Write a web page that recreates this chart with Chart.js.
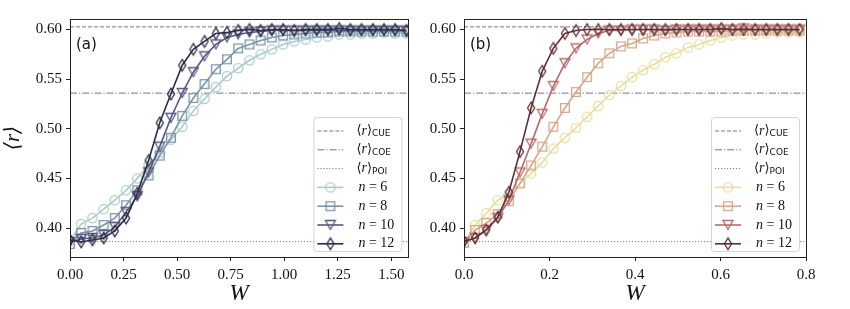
<!DOCTYPE html>
<html>
<head>
<meta charset="utf-8">
<script src="https://cdn.jsdelivr.net/npm/chart.js@4.4.0/dist/chart.umd.min.js"></script>
<style>
    html, body { margin: 0; padding: 0; background: #fff; }
    #wrap { width: 850px; height: 309px; position: relative; }
    #chartA { position: absolute; left: 0; top: 0; }
    #chartB { position: absolute; left: 415px; top: 0; }
</style>
</head>
<body>
<div id="wrap">
    <canvas id="chartA" width="415" height="309"></canvas>
    <canvas id="chartB" width="435" height="309"></canvas>
</div>
<script>
// reference values of <r>
var R_CUE = 0.6027;
var R_COE = 0.5359;
var R_POI = 0.3863;

// disorder strengths W
var wA = [0, 0.052, 0.105, 0.157, 0.209, 0.262, 0.314, 0.367, 0.419, 0.471, 0.524, 0.576, 0.628, 0.681, 0.733, 0.785,
    0.838, 0.890, 0.942, 0.995, 1.047, 1.100, 1.152, 1.204, 1.257, 1.309, 1.361, 1.414, 1.466, 1.518, 1.571];
var wB = [0, 0.026, 0.052, 0.079, 0.105, 0.131, 0.157, 0.183, 0.209, 0.236, 0.262, 0.288, 0.314, 0.340, 0.367, 0.393,
    0.419, 0.445, 0.471, 0.497, 0.524, 0.550, 0.576, 0.602, 0.628, 0.654, 0.681, 0.707, 0.733, 0.759, 0.785];

// panel (a)
var rA6 = [0.387, 0.404, 0.410, 0.419, 0.428, 0.438, 0.450, 0.463, 0.476, 0.489, 0.502, 0.518, 0.530, 0.542, 0.553, 0.561,
    0.569, 0.575, 0.580, 0.585, 0.588, 0.590, 0.592, 0.593, 0.595, 0.595, 0.596, 0.596, 0.597, 0.596, 0.596];
var rA8 = [0.384, 0.395, 0.397, 0.403, 0.410, 0.423, 0.438, 0.453, 0.473, 0.491, 0.513, 0.531, 0.545, 0.560, 0.570, 0.581,
    0.585, 0.589, 0.592, 0.594, 0.595, 0.596, 0.597, 0.597, 0.598, 0.598, 0.598, 0.598, 0.598, 0.598, 0.598];
var rA10 = [0.386, 0.389, 0.390, 0.393, 0.401, 0.416, 0.432, 0.456, 0.482, 0.511, 0.536, 0.557, 0.573, 0.585, 0.592, 0.595,
    0.597, 0.598, 0.599, 0.599, 0.599, 0.599, 0.599, 0.599, 0.599, 0.599, 0.599, 0.599, 0.599, 0.599, 0.599];
var rA12 = [0.388, 0.386, 0.388, 0.390, 0.397, 0.410, 0.435, 0.468, 0.506, 0.535, 0.564, 0.580, 0.588, 0.596, 0.597, 0.599,
    0.600, 0.599, 0.600, 0.600, 0.599, 0.600, 0.600, 0.600, 0.601, 0.600, 0.600, 0.600, 0.600, 0.600, 0.599];

// panel (b)
var rB6 = [0.385, 0.403, 0.415, 0.428, 0.435, 0.445, 0.455, 0.466, 0.480, 0.491, 0.501, 0.512, 0.523, 0.534, 0.543, 0.552,
    0.559, 0.565, 0.572, 0.576, 0.582, 0.585, 0.589, 0.592, 0.594, 0.595, 0.595, 0.596, 0.597, 0.597, 0.597];
var rB8 = [0.385, 0.398, 0.405, 0.414, 0.427, 0.445, 0.463, 0.482, 0.502, 0.521, 0.537, 0.552, 0.566, 0.576, 0.583, 0.586,
    0.591, 0.594, 0.596, 0.597, 0.598, 0.598, 0.598, 0.598, 0.599, 0.599, 0.599, 0.599, 0.599, 0.599, 0.599];
var rB10 = [0.386, 0.390, 0.398, 0.410, 0.428, 0.456, 0.485, 0.515, 0.543, 0.566, 0.581, 0.590, 0.596, 0.599, 0.599, 0.600,
    0.600, 0.600, 0.599, 0.600, 0.600, 0.600, 0.600, 0.600, 0.600, 0.601, 0.600, 0.600, 0.600, 0.600, 0.600];
var rB12 = [0.3865, 0.390, 0.398, 0.411, 0.436, 0.477, 0.521, 0.558, 0.581, 0.596, 0.599, 0.600, 0.600, 0.600, 0.600, 0.600,
    0.600, 0.600, 0.600, 0.600, 0.600, 0.600, 0.600, 0.601, 0.600, 0.600, 0.600, 0.600, 0.600, 0.600, 0.600];

var sizes = [6, 8, 10, 12];
var xTicksA = [0, 0.25, 0.5, 0.75, 1.0, 1.25, 1.5];
var xTicksB = [0, 0.2, 0.4, 0.6, 0.8];
var yTicks = [0.40, 0.45, 0.50, 0.55, 0.60];

var colorsA = ['#aacccb', '#7c94a7', '#56577f', '#2c2b42'];
var colorsB = ['#e6dea2', '#d6a789', '#b66b6d', '#5b2e35'];
var markerKinds = ['o', 's', 'v', 'd'];

var refColor = '#7a7a7a';
var refDashes = [[4, 2], [7, 2, 1.2, 2], [1.2, 1.8]];

var serif = '"Liberation Serif", "DejaVu Serif", serif';
var sans = '"DejaVu Sans", sans-serif';

function makeMarker(kind, color) {
    var c = document.createElement('canvas');
    c.width = 16;
    c.height = 16;
    var g = c.getContext('2d');
    g.strokeStyle = color;
    g.lineWidth = 1.3;
    g.beginPath();
    if (kind === 'o') g.arc(8, 8, 4.7, 0, Math.PI * 2);
    if (kind === 's') g.rect(3.7, 3.7, 8.6, 8.6);
    if (kind === 'v') { g.moveTo(3, 3.5); g.lineTo(13, 3.5); g.lineTo(8, 12.5); g.closePath(); }
    if (kind === 'd') { g.moveTo(8, 2.2); g.lineTo(11.5, 8); g.lineTo(8, 13.8); g.lineTo(4.5, 8); g.closePath(); }
    g.stroke();
    return c;
}

function refLine(y, xMax, k) {
    return {
        data: [{ x: 0, y: y }, { x: xMax, y: y }],
        borderColor: refColor,
        borderWidth: 1,
        borderDash: refDashes[k],
        pointRadius: 0,
        order: 10
    };
}

function series(ws, rs, color, kind, k) {
    return {
        data: ws.map(function (w, i) { return { x: w, y: rs[i] }; }),
        borderColor: color,
        borderWidth: 1.6,
        pointStyle: makeMarker(kind, color),
        pointRadius: 5,
        pointHoverRadius: 5,
        clip: 0,
        order: 4 - k
    };
}

function drawMath(ctx, x, y, parts) {
    parts.forEach(function (p) {
        ctx.font = p[1];
        ctx.fillText(p[0], x, y + (p[2] || 0));
        x += ctx.measureText(p[0]).width;
    });
}

var decor = {
    id: 'decor',
    afterDatasetsDraw: function (chart, args, o) {
        var ctx = chart.ctx, a = chart.chartArea;
        ctx.save();

        // frame
        ctx.strokeStyle = '#222';
        ctx.lineWidth = 1;
        ctx.strokeRect(Math.round(a.left) + 0.5, Math.round(a.top) + 0.5,
            Math.round(a.right - a.left), Math.round(a.bottom - a.top));

        // panel label
        ctx.fillStyle = '#111';
        ctx.font = '15px ' + sans;
        ctx.textBaseline = 'middle';
        ctx.fillText(o.label, a.left + 6, a.top + 26);

        // legend
        var w = 88, h = 134;
        var x0 = a.right - 7 - w, y0 = a.bottom - 6 - h;
        ctx.beginPath();
        ctx.roundRect(x0 + 0.5, y0 + 0.5, w, h, 3);
        ctx.fillStyle = 'rgba(255,255,255,0.85)';
        ctx.fill();
        ctx.strokeStyle = '#d4d4d4';
        ctx.stroke();

        var subs = ['CUE', 'COE', 'POI'];
        for (var k = 0; k < 7; k++) {
            var y = y0 + 14 + k * 18.8;
            ctx.beginPath();
            ctx.moveTo(x0 + 4, y);
            ctx.lineTo(x0 + 30, y);
            if (k < 3) {
                ctx.setLineDash(refDashes[k]);
                ctx.strokeStyle = refColor;
                ctx.lineWidth = 1;
                ctx.stroke();
                ctx.setLineDash([]);
                ctx.fillStyle = '#111';
                drawMath(ctx, x0 + 43, y, [
                    ['\u27E8', '13px "DejaVu Serif", serif'],
                    ['r', 'italic 14px ' + serif],
                    ['\u27E9', '13px "DejaVu Serif", serif'],
                    [subs[k], '9px ' + sans, 3]
                ]);
            } else {
                var j = k - 3;
                ctx.strokeStyle = o.colors[j];
                ctx.lineWidth = 1.6;
                ctx.stroke();
                ctx.drawImage(makeMarker(markerKinds[j], o.colors[j]), x0 + 9, y - 8);
                ctx.fillStyle = '#111';
                drawMath(ctx, x0 + 45, y, [
                    ['n', 'italic 14px ' + serif],
                    [' = ' + sizes[j], '14px ' + serif]
                ]);
            }
        }
        ctx.restore();
    }
};

function buildChart(id, ws, rows, colors, xMax, xTicks, xDigits, yWidth, rightPad, label, showYTitle) {
    var datasets = [
        refLine(R_CUE, xMax, 0),
        refLine(R_COE, xMax, 1),
        refLine(R_POI, xMax, 2)
    ];
    rows.forEach(function (rs, k) {
        datasets.push(series(ws, rs, colors[k], markerKinds[k], k));
    });

    return new Chart(document.getElementById(id).getContext('2d'), {
        type: 'line',
        data: { datasets: datasets },
        plugins: [decor],
        options: {
            responsive: false,
            animation: false,
            devicePixelRatio: 1,
            layout: { padding: { top: 19, right: rightPad, left: 0, bottom: 0 } },
            plugins: {
                legend: { display: false },
                tooltip: { enabled: false },
                decor: { label: label, colors: colors }
            },
            scales: {
                x: {
                    type: 'linear',
                    min: 0,
                    max: xMax,
                    afterBuildTicks: function (s) { s.ticks = xTicks.map(function (v) { return { value: v }; }); },
                    afterFit: function (s) { s.height = 52; },
                    grid: { drawOnChartArea: false, drawTicks: true, tickLength: 4, color: '#222', lineWidth: 1 },
                    border: { display: false },
                    ticks: {
                        color: '#111',
                        padding: 5,
                        maxRotation: 0,
                        font: { family: serif, size: 15 },
                        callback: function (v) { return v.toFixed(xDigits); }
                    },
                    title: {
                        display: true,
                        text: 'W',
                        color: '#111',
                        font: { family: serif, size: 23, style: 'italic' },
                        padding: { top: 0, bottom: 1 }
                    }
                },
                y: {
                    min: 0.3708,
                    max: 0.6106,
                    afterBuildTicks: function (s) { s.ticks = yTicks.map(function (v) { return { value: v }; }); },
                    afterFit: function (s) { s.width = yWidth; },
                    grid: { drawOnChartArea: false, drawTicks: true, tickLength: 4, color: '#222', lineWidth: 1 },
                    border: { display: false },
                    ticks: {
                        color: '#111',
                        padding: 4,
                        font: { family: serif, size: 15 },
                        callback: function (v) { return v.toFixed(2); }
                    },
                    title: {
                        display: showYTitle,
                        text: '\u27E8r\u27E9',
                        color: '#111',
                        font: { family: serif, size: 21, style: 'italic' },
                        padding: { top: 1, bottom: 0 }
                    }
                }
            }
        }
    });
}

buildChart('chartA', wA, [rA6, rA8, rA10, rA12], colorsA, 1.58, xTicksA, 2, 70, 2, '(a)', true);
buildChart('chartB', wB, [rB6, rB8, rB10, rB12], colorsB, 0.8, xTicksB, 1, 49, 44, '(b)', false);
</script>
</body>
</html>
